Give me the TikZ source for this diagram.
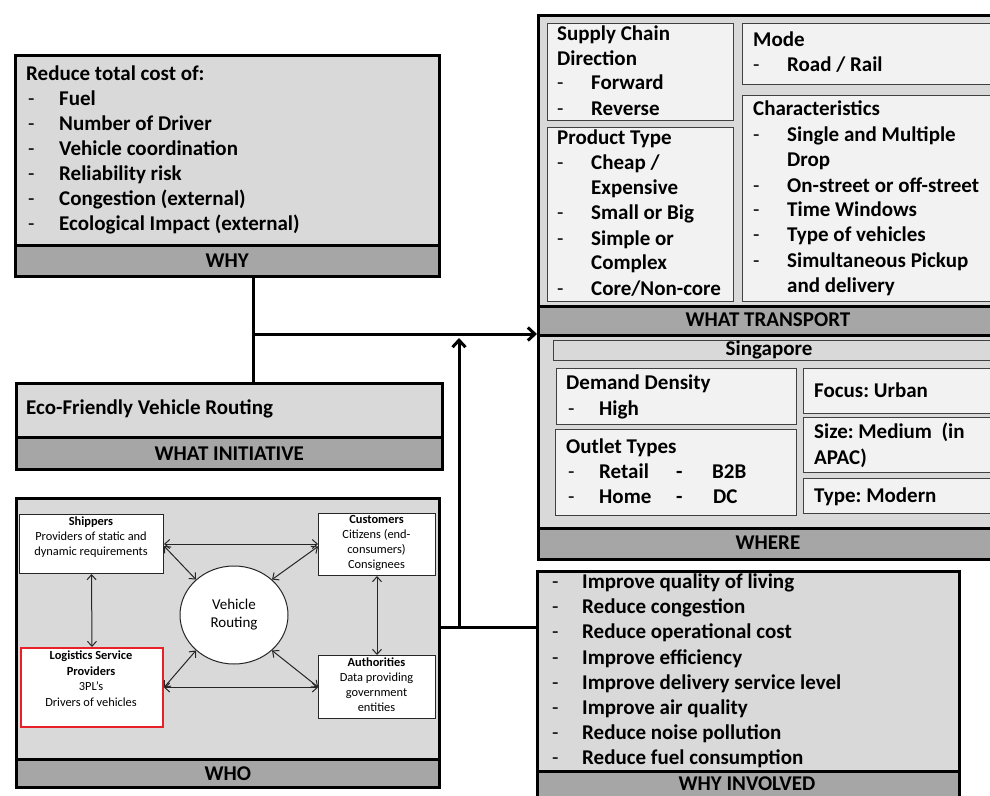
\documentclass[tikz,border=0pt]{standalone}
\usepackage{fontspec}
\setmainfont{Carlito}
\usetikzlibrary{arrows.meta,shapes.geometric}
\definecolor{panelgray}{HTML}{D9D9D9}
\definecolor{bandgray}{HTML}{A6A6A6}
\definecolor{cardgray}{HTML}{F2F2F2}
\definecolor{edgegray}{HTML}{404040}
\definecolor{lspred}{HTML}{E8202A}
\frenchspacing

\begin{document}
\begin{tikzpicture}[x=1pt,y=-1pt,
  panel/.style={draw=black, line width=2.6pt, fill=panelgray, inner sep=0pt, anchor=north west},
  bandbox/.style={draw=black, line width=2.6pt, fill=bandgray, inner sep=0pt, anchor=north west},
  card/.style={draw=edgegray, line width=1.3pt, fill=cardgray, inner sep=0pt, anchor=north west},
  whitecard/.style={draw=black!85, line width=1pt, fill=white, inner sep=0pt, anchor=north west},
  txt/.style={font=\fontsize{21}{25}\selectfont\bfseries, inner sep=0pt, anchor=base west},
  dashmark/.style={font=\fontsize{21}{25}\selectfont, inner sep=0pt, anchor=base west},
  bandlabel/.style={font=\fontsize{21}{25}\selectfont\bfseries, inner sep=0pt},
  smalltxt/.style={font=\fontsize{12.4}{15}\selectfont, inner sep=0pt, align=center},
  conn/.style={line width=3pt, black},
  arrowtip/.style={-{Straight Barb[length=7pt,width=13pt,line width=3pt]}},
  link/.style={line width=1pt, black!85, {Straight Barb[length=5pt,width=9pt]}-{Straight Barb[length=5pt,width=9pt]}}
]
\useasboundingbox (0,0) rectangle (990,795);
\clip (0,0) rectangle (990,795);

% ---------------- WHY ----------------
\node[panel, minimum width=424pt, minimum height=221pt] (why) at (14,54) {};
\node[bandbox, minimum width=424pt, minimum height=31pt] (whyband) at (14,244) {};
\node[bandlabel] (whylbl) at (whyband.center) {WHY};
\node[txt] (whytitle) at (26,80.5) {Reduce total cost of:};
\foreach \t [count=\i from 0] in {Fuel, Number of Driver, Vehicle coordination, Reliability risk, Congestion (external), Ecological Impact (external)} {
  \node[dashmark] (whyd\i) at (28,{105.5+25*\i}) {-};
  \node[txt] (whyi\i) at (59,{105.5+25*\i}) {\t};
}

% ---------------- WHAT INITIATIVE ----------------
\node[panel, minimum width=426pt, minimum height=86pt] (init) at (15,382) {};
\node[bandbox, minimum width=426pt, minimum height=32pt] (initband) at (15,436) {};
\node[bandlabel] (initlbl) at (initband.center) {WHAT INITIATIVE};
\node[txt] (inittxt) at (26,414.5) {Eco-Friendly Vehicle Routing};

% ---------------- WHO ----------------
\node[panel, minimum width=423pt, minimum height=289pt] (who) at (15,497) {};
\node[bandbox, minimum width=423pt, minimum height=28pt] (whoband) at (15,758) {};
\node[bandlabel] (wholbl) at (whoband.center) {WHO};

\node[whitecard, minimum width=144pt, minimum height=59pt] (shippers) at (19,514) {};
\node[whitecard, minimum width=117pt, minimum height=62pt] (customers) at (318,513) {};
\node[whitecard, draw=lspred, line width=2pt, minimum width=142pt, minimum height=79pt] (lsp) at (20,647) {};
\node[whitecard, minimum width=117pt, minimum height=63pt] (authorities) at (318,655) {};
\node[ellipse, draw=black!85, line width=1pt, fill=white, minimum width=108pt, minimum height=98pt, inner sep=0pt] (vr) at (234,615) {};

\node[smalltxt] (shipperstxt) at (91,537.5) {\textbf{Shippers}\\Providers of static and\\dynamic requirements};
\node[smalltxt] (customerstxt) at (376.5,542.5) {\textbf{Customers}\\Citizens (end-\\consumers)\\Consignees};
\node[smalltxt, font=\fontsize{12.4}{15.5}\selectfont] (lsptxt) at (91,678.5) {\textbf{Logistics Service}\\\textbf{Providers}\\3PL’s\\Drivers of vehicles};
\node[smalltxt] (authtxt) at (376.5,685) {\textbf{Authorities}\\Data providing\\government\\entities};
\node[smalltxt, font=\fontsize{15}{18}\selectfont] (vrtxt) at (vr.center) {Vehicle\\Routing};

\draw[link] (shippers.east) -- (customers.west |- shippers.east);
\draw[link] ([yshift=-2pt]shippers.east) -- (vr.137);
\draw[link] ([yshift=-2pt]customers.west) -- (vr.43);
\draw[link] (shippers.south) -- (lsp.north);
\draw[link] (customers.south) -- (authorities.north);
\draw[link] (lsp.east) -- (vr.223);
\draw[link] (lsp.east) -- (authorities.west |- lsp.east);
\draw[link] (vr.317) -- (authorities.west);

% ---------------- WHAT TRANSPORT ----------------
\node[panel, minimum width=463pt, minimum height=320pt] (transport) at (537,14) {};
\node[bandbox, minimum width=463pt, minimum height=29pt] (transband) at (537,305) {};
\node[bandlabel] (translbl) at (768,319.5) {WHAT TRANSPORT};

\node[card, minimum width=186pt, minimum height=97pt] (scd) at (547,23) {};
\node[card, minimum width=186pt, minimum height=174pt] (ptype) at (547,127) {};
\node[card, minimum width=260pt, minimum height=61pt] (mode) at (742,23) {};
\node[card, minimum width=260pt, minimum height=206pt] (chars) at (742,95) {};

\node[txt] (scdt1) at (557,40.5) {Supply Chain};
\node[txt] (scdt2) at (557,65.5) {Direction};
\node[dashmark] (scdd1) at (557,89.5) {-};
\node[txt] (scdi1) at (591,89.5) {Forward};
\node[dashmark] (scdd2) at (557,115.5) {-};
\node[txt] (scdi2) at (591,115.5) {Reverse};

\node[txt] (ptt) at (557,144.5) {Product Type};
\node[dashmark] (ptd1) at (557,169.5) {-};
\node[txt] (pti1) at (591,169.5) {Cheap /};
\node[txt] (pti1b) at (591,194.5) {Expensive};
\node[dashmark] (ptd2) at (557,219.5) {-};
\node[txt] (pti2) at (591,219.5) {Small or Big};
\node[dashmark] (ptd3) at (557,245.5) {-};
\node[txt] (pti3) at (591,245.5) {Simple or};
\node[txt] (pti3b) at (591,269.5) {Complex};
\node[dashmark] (ptd4) at (557,295.5) {-};
\node[txt] (pti4) at (591,295.5) {Core/Non-core};

\node[txt] (modet) at (753,46.5) {Mode};
\node[dashmark] (moded) at (753,71.5) {-};
\node[txt] (modei) at (787,71.5) {Road / Rail};

\node[txt] (charst) at (753,115.5) {Characteristics};
\node[dashmark] (chd1) at (753,141.5) {-};
\node[txt] (chi1) at (787,141.5) {Single and Multiple};
\node[txt] (chi1b) at (787,166.5) {Drop};
\node[dashmark] (chd2) at (753,192.5) {-};
\node[txt] (chi2) at (787,192.5) {On-street or off-street};
\node[dashmark] (chd3) at (753,216.5) {-};
\node[txt] (chi3) at (787,216.5) {Time Windows};
\node[dashmark] (chd4) at (753,241.5) {-};
\node[txt] (chi4) at (787,241.5) {Type of vehicles};
\node[dashmark] (chd5) at (753,267.5) {-};
\node[txt] (chi5) at (787,267.5) {Simultaneous Pickup};
\node[txt] (chi5b) at (787,292.5) {and delivery};

% ---------------- WHERE ----------------
\node[panel, minimum width=463pt, minimum height=224pt] (where) at (537,334) {};
\node[bandbox, minimum width=463pt, minimum height=31pt] (whereband) at (537,527) {};
\node[bandlabel] (wherelbl) at (768,542.5) {WHERE};

\node[draw=edgegray, line width=1.3pt, fill=panelgray, inner sep=0pt, anchor=north west, minimum width=449pt, minimum height=20pt] (sgbar) at (553,340) {};
\node[bandlabel] (sgtxt) at (769,350) {Singapore};

\node[card, minimum width=240pt, minimum height=56pt] (demand) at (556,368) {};
\node[card, minimum width=241pt, minimum height=86pt] (outlet) at (555,429) {};
\node[card, minimum width=199pt, minimum height=45pt] (focus) at (803,368) {};
\node[card, minimum width=199pt, minimum height=55pt] (size) at (803,417) {};
\node[card, minimum width=199pt, minimum height=35pt] (type) at (803,478) {};

\node[txt] (demandt) at (566,389.5) {Demand Density};
\node[dashmark] (demandd) at (568,415.5) {-};
\node[txt] (demandi) at (599,415.5) {High};

\node[txt] (outlett) at (566,453.5) {Outlet Types};
\node[dashmark] (outd1) at (568,478.5) {-};
\node[txt] (outi1) at (599,478.5) {Retail};
\node[txt] (outd2) at (676,478.5) {-};
\node[txt] (outi2) at (712,478.5) {B2B};
\node[dashmark] (outd3) at (568,503.5) {-};
\node[txt] (outi3) at (599,503.5) {Home};
\node[txt] (outd4) at (676,503.5) {-};
\node[txt] (outi4) at (713,503.5) {DC};

\node[txt] (focustxt) at (814,397.5) {Focus: Urban};
\node[txt] (sizetxt1) at (814,438.5) {Size: Medium~~(in};
\node[txt] (sizetxt2) at (814,464.5) {APAC)};
\node[txt] (typetxt) at (814,502.5) {Type: Modern};

% ---------------- WHY INVOLVED ----------------
\node[panel, minimum width=422pt, minimum height=240pt] (involved) at (536,570) {};
\node[bandbox, minimum width=422pt, minimum height=40pt] (invband) at (536,770) {};
\node[bandlabel] (invlbl) at (747,783.5) {WHY INVOLVED};
\foreach \t [count=\i from 0] in {Improve quality of living, Reduce congestion, Reduce operational cost, Improve efficiency, Improve delivery service level, Improve air quality, Reduce noise pollution, Reduce fuel consumption} {
  \node[dashmark] (invd\i) at (552,{588.5+25.2*\i}) {-};
  \node[txt] (invi\i) at (582,{588.5+25.2*\i}) {\t};
}

% ---------------- Connectors ----------------
\coordinate (joint) at (253,334);
\coordinate (riser) at (459,627);
\coordinate (risertop) at (459,338);
\draw[conn] (joint |- why.south) -- (joint |- init.north);
\draw[conn, arrowtip] (joint) -- (joint -| transport.west);
\draw[conn] (who.east |- riser) -- (riser -| involved.west);
\draw[conn, arrowtip] (riser) -- (risertop);

\end{tikzpicture}
\end{document}
